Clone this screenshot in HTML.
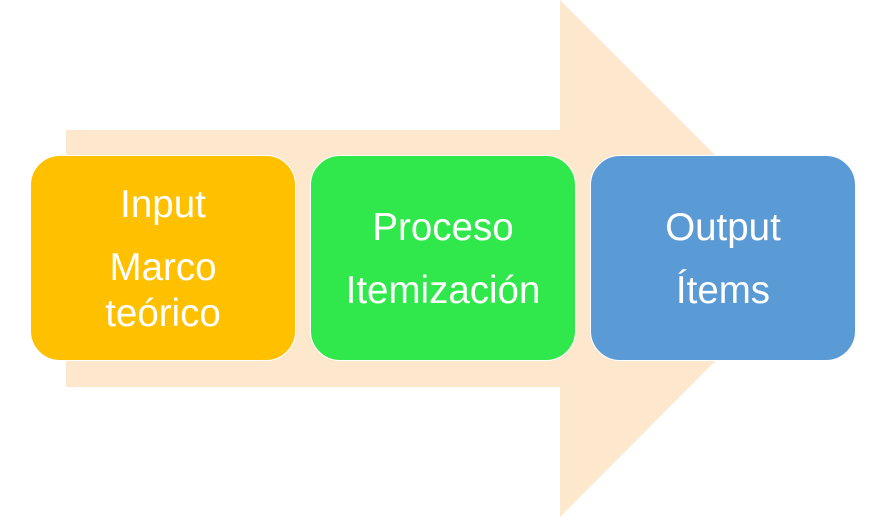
<!DOCTYPE html>
<html><head><meta charset="utf-8"><style>
html,body{margin:0;padding:0;background:#fff;width:886px;height:517px;overflow:hidden;position:relative;font-family:"Liberation Sans",sans-serif}
.b{position:absolute;top:155px;width:266px;height:206px;border-radius:30px;border:1.5px solid #fff;color:#fff;text-align:center;box-sizing:border-box}
.t{position:absolute;left:0;right:0;font-size:38.5px;line-height:40px;white-space:nowrap}
</style></head><body>
<svg width="886" height="517" style="position:absolute;left:0;top:0">
<polygon points="66,130 560,130 560,0 818,258 560,517 560,387 66,387" fill="#FDE7CD"/>
</svg>
<div class="b" style="left:30px;background:#FFC000">
<div class="t" style="top:29px">Input</div>
<div class="t" style="top:92px">Marco</div>
<div class="t" style="top:138px">teórico</div>
</div>
<div class="b" style="left:310px;background:#30E84B">
<div class="t" style="top:52px">Proceso</div>
<div class="t" style="top:115px">Itemización</div>
</div>
<div class="b" style="left:590px;background:#5B9BD5">
<div class="t" style="top:52px">Output</div>
<div class="t" style="top:115px">Ítems</div>
</div>
</body></html>
